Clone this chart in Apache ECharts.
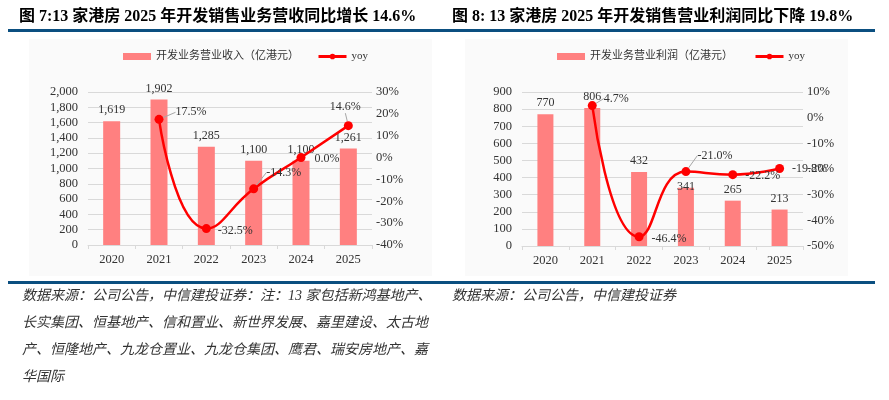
<!DOCTYPE html>
<html><head><meta charset="utf-8">
<script src="https://cdn.jsdelivr.net/npm/echarts@6/dist/echarts.min.js"></script>
<style>html,body{margin:0;padding:0;background:#fff;}#c{width:889px;height:400px;}</style>
</head><body><div id="c"></div>
<script>
// ---- data ----
const years = ['2020', '2021', '2022', '2023', '2024', '2025'];
const revenue = [1619, 1902, 1285, 1100, 1100, 1261];
const revenueYoy = [null, 17.5, -32.5, -14.3, 0.0, 14.6];
const profit = [770, 806, 432, 341, 265, 213];
const profitYoy = [null, 4.7, -46.4, -21.0, -22.2, -19.8];
const leftTitle = '图 7:13 家港房 2025 年开发销售业务营收同比增长 14.6%';
const rightTitle = '图 8: 13 家港房 2025 年开发销售营业利润同比下降 19.8%';
const revenueName = '开发业务营业收入（亿港元）';
const profitName = '开发业务营业利润（亿港元）';
const yoyName = 'yoy';
const leftNote = [
  '数据来源：公司公告，中信建投证券：注：13 家包括新鸿基地产、',
  '长实集团、恒基地产、信和置业、新世界发展、嘉里建设、太古地',
  '产、恒隆地产、九龙仓置业、九龙仓集团、鹰君、瑞安房地产、嘉',
  '华国际'
];
const rightNote = ['数据来源：公司公告，中信建投证券'];

// ---- styling ----
const SERIF = '"Liberation Serif", "Times New Roman", "Noto Sans CJK SC", serif';
const CJK = '"Liberation Serif", "Noto Sans CJK SC", serif';
const BAR = '#FF8080';
const RED = '#FF0000';
const GRID = '#D9D9D9';
const TXT = '#333333';
const BLUE = '#0B4F80';

const fmtNum = v => Number(v).toLocaleString('en-US');
const fmtPct = v => (typeof v === 'object' ? v.value : v).toFixed(1) + '%';

// label offsets (layout only) and which labels keep a leader line
const revYoyOff = [[0,0],[7,-7],[2,2],[3,-16],[4,1],[-3,-3]];
const revYoyLead = [false, true, false, true, false, true];
const proYoyOff = [[0,0],[2,-7],[3,2],[2,-16],[3,1],[3,0]];
const proYoyLead = [false, true, false, true, false, false];
const proBarOff = [[0,0],[0,0],[0,0],[0,10],[0,0],[0,0]];

function lineData(arr, topIdx, lead) {
  return arr.map((v, i) => {
    if (v === null) return null;
    const item = { value: v, labelLine: { show: lead[i] } };
    if (i === topIdx) item.label = { position: 'top' };
    return item;
  });
}

const xAxisCommon = {
  type: 'category', data: years,
  axisLine: { lineStyle: { color: GRID } },
  axisTick: { show: true, alignWithLabel: false, length: 4, lineStyle: { color: GRID } },
  axisLabel: { color: TXT, fontFamily: SERIF, fontSize: 12.5, margin: 8 }
};
function yLeft(gi, max, interval, fmt) {
  return {
    type: 'value', gridIndex: gi, min: 0, max: max, interval: interval, position: 'left',
    axisLine: { show: false }, axisTick: { show: false },
    splitLine: { lineStyle: { color: GRID } },
    axisLabel: { color: TXT, fontFamily: SERIF, fontSize: 12.5, margin: 10, formatter: fmt }
  };
}
function yRight(gi, min, max) {
  return {
    type: 'value', gridIndex: gi, min: min, max: max, interval: 10, position: 'right',
    axisLine: { show: false }, axisTick: { show: false }, splitLine: { show: false },
    axisLabel: { color: TXT, fontFamily: SERIF, fontSize: 12.5, margin: 4, formatter: v => v + '%' }
  };
}

const noteTexts = [];
leftNote.forEach((t, i) => noteTexts.push({
  type: 'text', left: 22, top: 289 + i * 27,
  style: { text: t, font: 'italic 14px ' + CJK, fill: TXT }
}));
rightNote.forEach((t, i) => noteTexts.push({
  type: 'text', left: 452, top: 289 + i * 27,
  style: { text: t, font: 'italic 14px ' + CJK, fill: TXT }
}));

const chart = echarts.init(document.getElementById('c'), null, { renderer: 'canvas' });
chart.setOption({
  animation: false,
  backgroundColor: '#ffffff',
  graphic: [
    { type: 'rect', shape: { x: 29, y: 39, width: 403, height: 237 }, style: { fill: '#FAFAFA' }, z: -10 },
    { type: 'rect', shape: { x: 465, y: 39, width: 383, height: 237 }, style: { fill: '#FAFAFA' }, z: -10 },
    { type: 'text', left: 19, top: 9, style: { text: leftTitle, font: 'bold 16px ' + CJK, fill: '#000' } },
    { type: 'text', left: 452, top: 9, style: { text: rightTitle, font: 'bold 16px ' + CJK, fill: '#000' } },
    { type: 'rect', shape: { x: 8, y: 29, width: 437, height: 3 }, style: { fill: BLUE } },
    { type: 'rect', shape: { x: 445, y: 29, width: 430, height: 3 }, style: { fill: BLUE } },
    { type: 'rect', shape: { x: 8, y: 281, width: 437, height: 3 }, style: { fill: BLUE } },
    { type: 'rect', shape: { x: 445, y: 281, width: 430, height: 3 }, style: { fill: BLUE } }
  ].concat(noteTexts),
  legend: [
    { left: 118, top: 46, itemWidth: 28, itemHeight: 7, itemGap: 18,
      data: [{ name: revenueName, icon: 'rect' }, { name: yoyName + ' ', lineStyle: { width: 3 } }],
      textStyle: { fontFamily: CJK, fontSize: 11, color: TXT } },
    { left: 552, top: 46, itemWidth: 28, itemHeight: 7, itemGap: 21,
      data: [{ name: profitName, icon: 'rect' }, { name: yoyName, lineStyle: { width: 3 } }],
      textStyle: { fontFamily: CJK, fontSize: 11, color: TXT } }
  ],
  grid: [
    { left: 88, right: 889 - 372, top: 92, bottom: 400 - 245 },
    { left: 522, right: 889 - 803, top: 92, bottom: 400 - 246 }
  ],
  xAxis: [
    Object.assign({ gridIndex: 0 }, xAxisCommon),
    Object.assign({ gridIndex: 1 }, xAxisCommon)
  ],
  yAxis: [
    yLeft(0, 2000, 200, v => fmtNum(v)),
    yRight(0, -40, 30),
    yLeft(1, 900, 100, v => v),
    yRight(1, -50, 10)
  ],
  series: [
    { name: revenueName, type: 'bar', xAxisIndex: 0, yAxisIndex: 0, data: revenue,
      barWidth: 17, itemStyle: { color: BAR },
      label: { show: true, position: 'top', distance: 5, color: TXT, fontFamily: SERIF, fontSize: 12,
               formatter: p => fmtNum(p.value) } },
    { name: yoyName + ' ', type: 'line', xAxisIndex: 0, yAxisIndex: 1, data: lineData(revenueYoy, 5, revYoyLead),
      smooth: 0.5, symbol: 'circle', symbolSize: 9, z: 5,
      lineStyle: { color: RED, width: 2.5 }, itemStyle: { color: RED },
      label: { show: true, position: 'right', distance: 5, color: TXT, fontFamily: SERIF, fontSize: 12,
               formatter: p => fmtPct(p.value) },
      labelLine: { show: true, lineStyle: { color: '#A6A6A6', width: 1 } },
      labelLayout: p => ({ dx: revYoyOff[p.dataIndex][0], dy: revYoyOff[p.dataIndex][1] }) },
    { name: profitName, type: 'bar', xAxisIndex: 1, yAxisIndex: 2, data: profit,
      barWidth: 16, itemStyle: { color: BAR },
      label: { show: true, position: 'top', distance: 5, color: TXT, fontFamily: SERIF, fontSize: 12 },
      labelLayout: p => ({ dx: proBarOff[p.dataIndex][0], dy: proBarOff[p.dataIndex][1] }) },
    { name: yoyName, type: 'line', xAxisIndex: 1, yAxisIndex: 3, data: lineData(profitYoy, -1, proYoyLead),
      smooth: 0.5, symbol: 'circle', symbolSize: 9, z: 5,
      lineStyle: { color: RED, width: 2.5 }, itemStyle: { color: RED },
      label: { show: true, position: 'right', distance: 5, color: TXT, fontFamily: SERIF, fontSize: 12,
               formatter: p => fmtPct(p.value) },
      labelLine: { show: true, lineStyle: { color: '#A6A6A6', width: 1 } },
      labelLayout: p => ({ dx: proYoyOff[p.dataIndex][0], dy: proYoyOff[p.dataIndex][1] }) }
  ]
});
</script>
</body></html>
